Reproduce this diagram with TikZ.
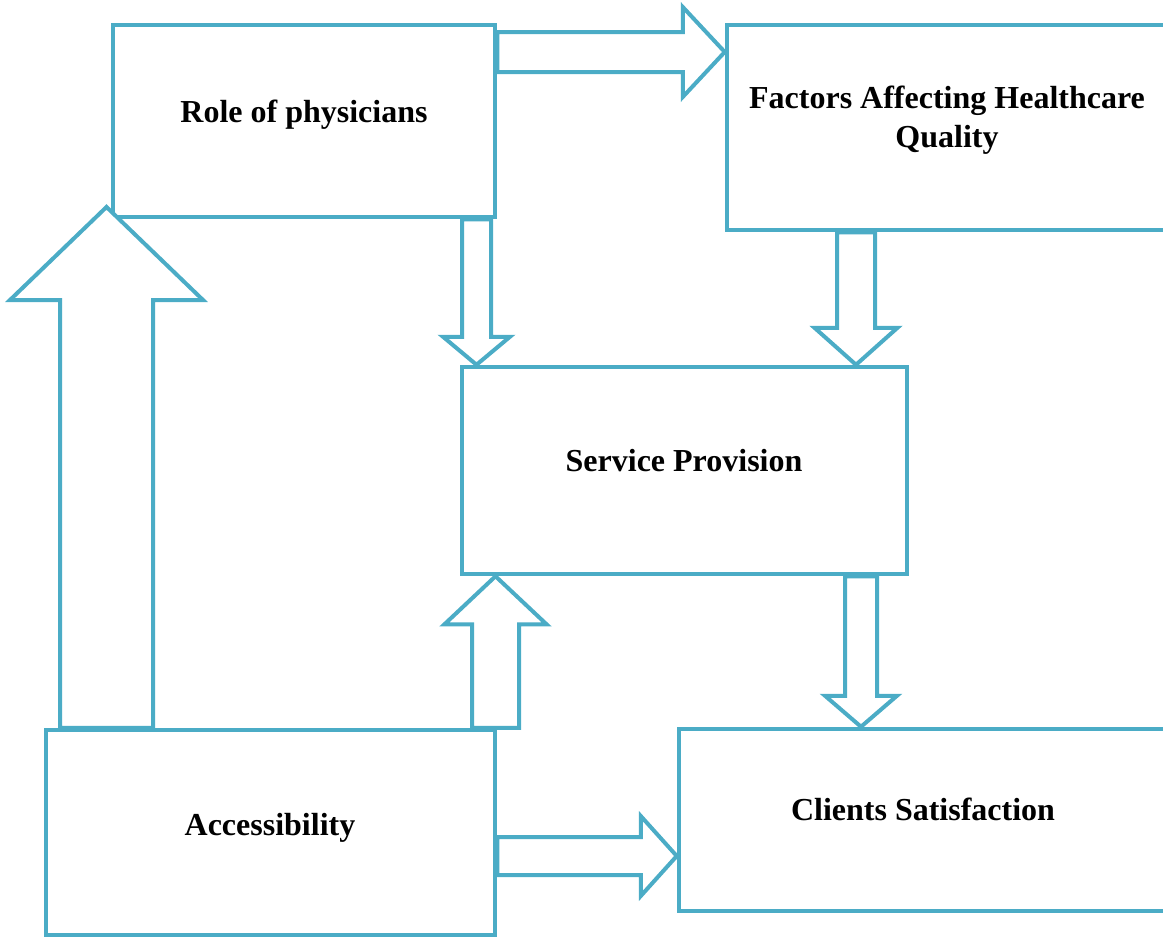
\documentclass[tikz,border=0pt]{standalone}
\usepackage{fontspec}
\setmainfont{Liberation Serif}
\usetikzlibrary{calc}
\definecolor{aqua}{HTML}{4BACC6}
\begin{document}
\begin{tikzpicture}[x=1pt,y=1pt,
  box/.style={draw=aqua,line width=4.5pt,minimum width=#1,inner sep=0pt},
  lbl/.style={font=\fontsize{32}{39}\selectfont\bfseries,align=center,inner sep=0pt,anchor=base},
  hollow/.style={draw=aqua,fill=white,line width=4pt,miter limit=10},
  % block arrow pointing right: shaft half-width, head half-width, head length
  rarrow/.style n args={3}{to path={let \p1=(\tikztostart), \p2=(\tikztotarget) in
    (\x1,\y2+#1) -- (\x2-#3,\y2+#1) -- (\x2-#3,\y2+#2) -- (\x2,\y2) -- (\x2-#3,\y2-#2)
    -- (\x2-#3,\y2-#1) -- (\x1,\y2-#1) -- cycle}},
  % block arrow pointing down
  darrow/.style n args={3}{to path={let \p1=(\tikztostart), \p2=(\tikztotarget) in
    (\x2-#1,\y1) -- (\x2-#1,\y2+#3) -- (\x2-#2,\y2+#3) -- (\x2,\y2) -- (\x2+#2,\y2+#3)
    -- (\x2+#1,\y2+#3) -- (\x2+#1,\y1) -- cycle}},
  % block arrow pointing up
  uarrow/.style n args={3}{to path={let \p1=(\tikztostart), \p2=(\tikztotarget) in
    (\x2-#1,\y1) -- (\x2-#1,\y2-#3) -- (\x2-#2,\y2-#3) -- (\x2,\y2) -- (\x2+#2,\y2-#3)
    -- (\x2+#1,\y2-#3) -- (\x2+#1,\y1) -- cycle}},
]
\useasboundingbox (0,0) rectangle (1163,-937);
\clip (0,0) rectangle (1163,-937);

% boxes
\node[box=382pt,minimum height=192pt] (role)    at (304,-121) {};
\node[box=463pt,minimum height=205pt] (factors) at (958.5,-127.5) {};
\node[box=445pt,minimum height=207pt] (service) at (684.5,-470.5) {};
\node[box=449pt,minimum height=205pt] (access)  at (270.5,-832.5) {};
\node[box=521pt,minimum height=182pt] (clients) at (939.5,-820) {};

% labels (base anchor of the two-line label sits on its last line)
\node[lbl] (roleT)    at (304,-122) {Role of physicians};
\node[lbl] (factorsT) at (947,-147) {Factors Affecting Healthcare\\Quality};
\node[lbl] (serviceT) at (684,-471) {Service Provision};
\node[lbl] (accessT)  at (270,-835) {Accessibility};
\node[lbl] (clientsT) at (923,-820) {Clients Satisfaction};

% free end of the large arrow
\coordinate (roleTip) at (106.5,-207);

% block arrows
\draw[hollow,rarrow={20pt}{45pt}{42pt}] (role.east |- 0,-52) to (factors.west |- 0,-52);
\draw[hollow,darrow={14.5pt}{33.5pt}{28pt}] (role.south -| 476.5,0) to (service.north -| 476.5,0);
\draw[hollow,darrow={19pt}{41.5pt}{37pt}] (factors.south -| 856,0) to (service.north -| 856,0);
\draw[hollow,uarrow={46.5pt}{96.5pt}{93pt}] (access.north -| roleTip) to (roleTip);
\draw[hollow,uarrow={23.5pt}{51pt}{48pt}] (access.north -| 495.5,0) to (service.south -| 495.5,0);
\draw[hollow,darrow={16pt}{36pt}{31pt}] (service.south -| 861,0) to (clients.north -| 861,0);
\draw[hollow,rarrow={19pt}{40pt}{36pt}] (access.east |- 0,-856) to (clients.west |- 0,-856);
\end{tikzpicture}
\end{document}
